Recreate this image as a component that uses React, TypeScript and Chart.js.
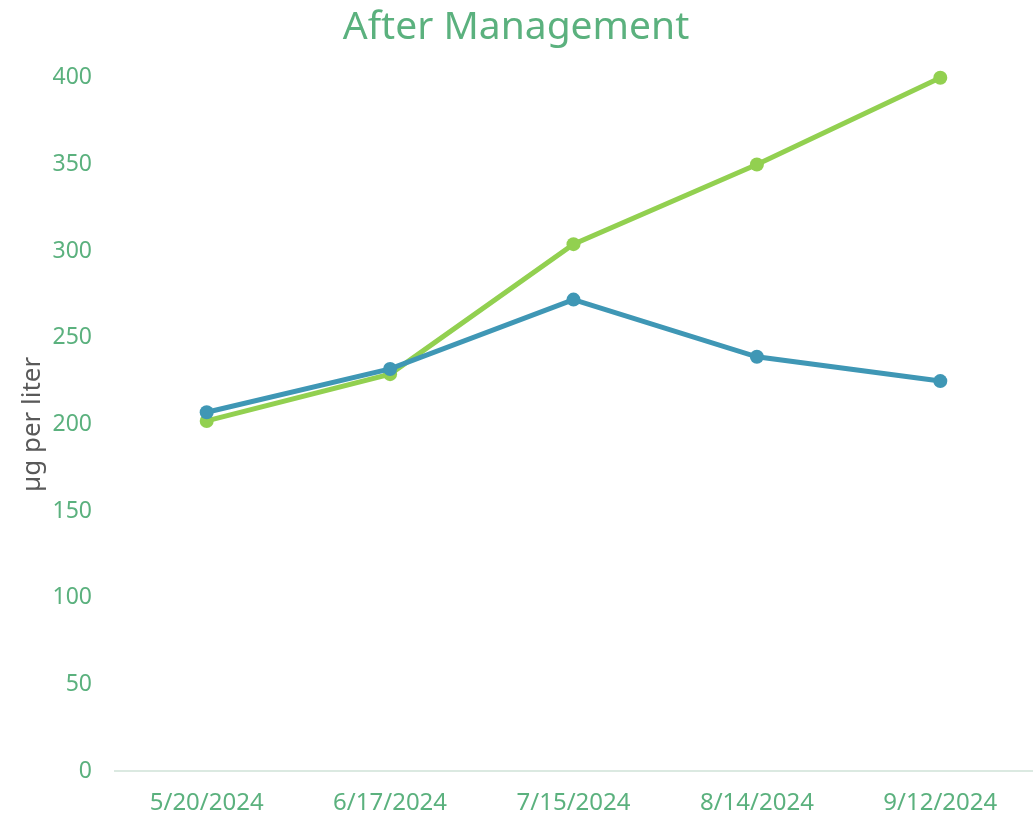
import React, { useEffect, useRef } from "react";
import { Chart, registerables } from "chart.js";

Chart.register(...registerables);

const categories = ["5/20/2024", "6/17/2024", "7/15/2024", "8/14/2024", "9/12/2024"];
const seriesBlue = [207, 232, 272, 239, 225];
const seriesGreen = [202, 229, 304, 350, 400];
const yTicksMin = 0;
const yTicksMax = 400;
const yStep = 50;

const TEXT_GREEN = "#5bb17e";
const FONT = "'Noto Sans', 'DejaVu Sans', sans-serif";

export default function App() {
  const ref = useRef<HTMLCanvasElement | null>(null);

  useEffect(() => {
    document.body.style.margin = "0";
    const ctx = ref.current!;
    const chart = new Chart(ctx, {
      type: "line",
      data: {
        labels: categories,
        datasets: [
          {
            label: "Series 1",
            data: seriesBlue,
            borderColor: "#3f97b5",
            backgroundColor: "#3f97b5",
            borderWidth: 5,
            pointRadius: 7,
            pointBorderWidth: 0,
            tension: 0,
            clip: false,
          },
          {
            label: "Series 2",
            data: seriesGreen,
            borderColor: "#92d050",
            backgroundColor: "#92d050",
            borderWidth: 5,
            pointRadius: 7,
            pointBorderWidth: 0,
            tension: 0,
            clip: false,
          },
        ],
      },
      options: {
        animation: false,
        responsive: false,
        layout: { autoPadding: false, padding: { top: 0, left: 0, right: 1, bottom: 0 } },
        plugins: {
          legend: { display: false },
          tooltip: { enabled: false },
          title: {
            display: true,
            text: "After Management",
            color: TEXT_GREEN,
            font: { family: FONT, size: 39, weight: "normal" },
            padding: { top: 4, bottom: 27 },
          },
        },
        scales: {
          x: {
            offset: true,
            grid: { display: false },
            border: { display: true, color: "#dbe9e1", width: 2 },
            ticks: {
              color: TEXT_GREEN,
              font: { family: FONT, size: 24 },
              padding: 10,
              maxRotation: 0,
            },
            afterFit: (s: any) => {
              s.height = 45;
              s.paddingLeft = 0;
              s.paddingRight = 0;
            },
          },
          y: {
            min: yTicksMin,
            max: yTicksMax,
            grid: { display: false },
            border: { display: false },
            ticks: {
              stepSize: yStep,
              color: TEXT_GREEN,
              font: { family: FONT, size: 23 },
              padding: 15,
            },
            title: {
              display: true,
              text: "µg per liter",
              color: "#595959",
              font: { family: FONT, size: 26 },
              padding: { top: 17, bottom: 0 },
            },
            afterFit: (s: any) => {
              s.width = 115;
            },
          },
        },
      },
    });
    return () => chart.destroy();
  }, []);

  return (
    <div style={{ width: 1033, height: 816, background: "#fff" }}>
      <canvas ref={ref} width={1033} height={816} style={{ display: "block" }} />
    </div>
  );
}
